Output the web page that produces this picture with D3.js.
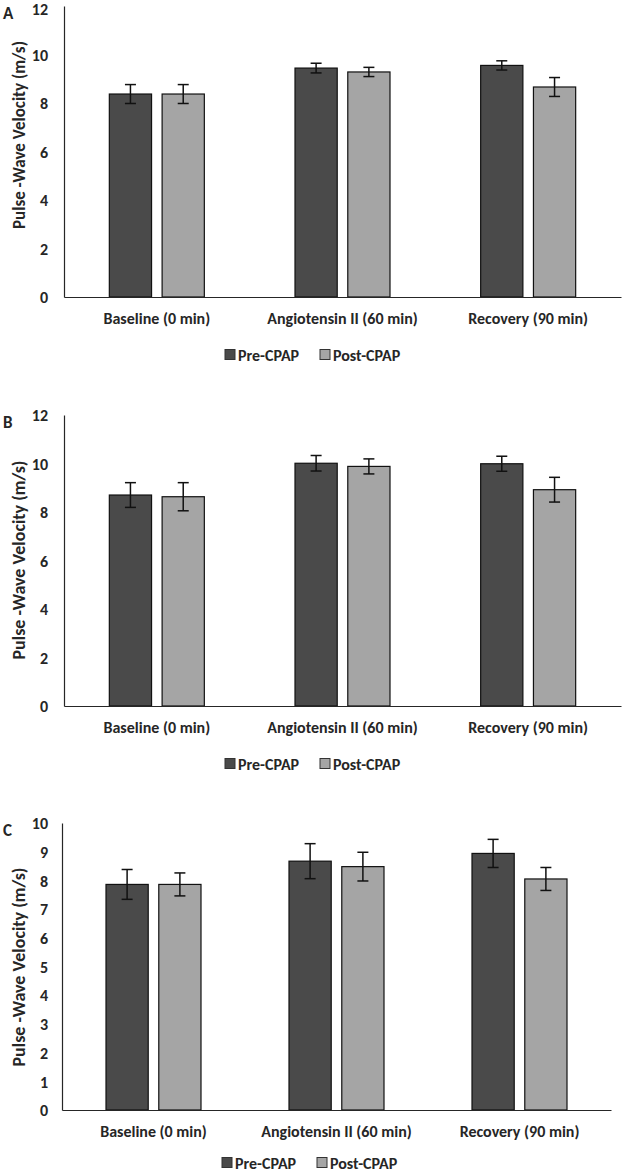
<!DOCTYPE html>
<html><head><meta charset="utf-8">
<script src="https://cdn.jsdelivr.net/npm/d3@7"></script>
<style>
body{margin:0;background:#fff;}
text{font-family:Carlito,"Liberation Sans Narrow",Lato,sans-serif;font-weight:bold;fill:#262626;}
</style></head><body>
<svg id="c" width="622" height="1173"></svg>
<script>
const categories = ["Baseline (0 min)", "Angiotensin II (60 min)", "Recovery (90 min)"];
const series = ["Pre-CPAP", "Post-CPAP"];
const panelLetters = ["A", "B", "C"];
const A_pre = [8.37, 9.44, 9.55], A_preErr = [0.39, 0.20, 0.19];
const A_post = [8.37, 9.28, 8.66], A_postErr = [0.39, 0.19, 0.39];
const B_pre = [8.70, 10.01, 9.99], B_preErr = [0.51, 0.32, 0.31];
const B_post = [8.63, 9.88, 8.92], B_postErr = [0.58, 0.31, 0.51];
const C_pre = [7.86, 8.67, 8.94], C_preErr = [0.52, 0.61, 0.49];
const C_post = [7.86, 8.48, 8.05], C_postErr = [0.40, 0.50, 0.40];
const ticksAB = [0, 2, 4, 6, 8, 10, 12];
const ticksC = [0, 1, 2, 3, 4, 5, 6, 7, 8, 9, 10];
const yTitle = "Pulse -Wave Velocity (m/s)";

const colors = {"Pre-CPAP": "#4a4a4a", "Post-CPAP": "#a5a5a5"};
const svg = d3.select("#c");

const panels = [
  {letter: panelLetters[0], pre: A_pre, preErr: A_preErr, post: A_post, postErr: A_postErr, ticks: ticksAB,
   left: 64, right: 621, y0: 297, yTop: 6, titleY: 135, titleSize: 17, legendX: 225, legendDy: 58},
  {letter: panelLetters[1], pre: B_pre, preErr: B_preErr, post: B_post, postErr: B_postErr, ticks: ticksAB,
   left: 64, right: 621, y0: 706, yTop: 415, titleY: 560, titleSize: 18, legendX: 225, legendDy: 58},
  {letter: panelLetters[2], pre: C_pre, preErr: C_preErr, post: C_post, postErr: C_postErr, ticks: ticksC,
   left: 62, right: 611, y0: 1110, yTop: 823, titleY: 967, titleSize: 18, legendX: 222, legendDy: 53},
];

panels.forEach(p => {
  const g = svg.append("g");
  const y = d3.scaleLinear().domain([0, d3.max(p.ticks)]).range([p.y0, p.yTop]);
  const x = d3.scaleBand().domain(categories).range([p.left, p.right]).padding(0);
  const xs = d3.scaleBand().domain(series).range([-47.5, 47.5]).paddingInner(0.2);

  // y axis
  const ya = d3.axisLeft(y).tickValues(p.ticks).tickSize(0).tickPadding(p.left - 48).tickFormat(d3.format("d"));
  const yg = g.append("g").attr("transform", `translate(${p.left},0)`).call(ya);
  yg.select(".domain").attr("stroke", "#262626").attr("stroke-width", 1.2);
  yg.selectAll("text").style("font-size", "16px").attr("dy", "0.36em");
  // keep the top label inside the picture
  yg.selectAll(".tick").filter(d => y(d) < 10).select("text").attr("dy", "0.5em");

  const data = [];
  categories.forEach((c, i) => {
    data.push({c, s: series[0], v: p.pre[i], e: p.preErr[i]});
    data.push({c, s: series[1], v: p.post[i], e: p.postErr[i]});
  });

  g.selectAll("rect.bar").data(data).join("rect").attr("class", "bar")
    .attr("x", d => x(d.c) + x.bandwidth() / 2 + xs(d.s))
    .attr("width", xs.bandwidth())
    .attr("y", d => y(d.v))
    .attr("height", d => y(0) - y(d.v))
    .attr("fill", d => colors[d.s])
    .attr("stroke", "#111").attr("stroke-width", 1.2);

  // x axis
  const xa = d3.axisBottom(x).tickSize(0);
  const xg = g.append("g").attr("transform", `translate(0,${p.y0})`).call(xa);
  xg.select(".domain").attr("stroke", "#262626").attr("stroke-width", 1.2);
  xg.selectAll("text").style("font-size", "16px").attr("y", 21).attr("dy", "0.35em");

  // error bars
  const eb = g.selectAll("g.err").data(data).join("g").attr("class", "err")
    .attr("transform", d => `translate(${x(d.c) + x.bandwidth() / 2 + xs(d.s) + xs.bandwidth() / 2},0)`);
  eb.append("line").attr("y1", d => y(d.v + d.e)).attr("y2", d => y(d.v - d.e))
    .attr("stroke", "#111").attr("stroke-width", 1.5);
  eb.append("line").attr("x1", -5.5).attr("x2", 5.5).attr("y1", d => y(d.v + d.e)).attr("y2", d => y(d.v + d.e))
    .attr("stroke", "#111").attr("stroke-width", 1.5);
  eb.append("line").attr("x1", -5.5).attr("x2", 5.5).attr("y1", d => y(d.v - d.e)).attr("y2", d => y(d.v - d.e))
    .attr("stroke", "#111").attr("stroke-width", 1.5);

  // y title
  g.append("text").attr("transform", `translate(25,${p.titleY}) rotate(-90)`)
    .attr("text-anchor", "middle").style("font-size", p.titleSize + "px").text(yTitle);

  // letter
  g.append("text").attr("x", 3).attr("y", p.yTop + 13).style("font-size", "17px").text(p.letter);

  // legend
  const lg = g.append("g").attr("transform", `translate(${p.legendX},${p.y0 + p.legendDy})`);
  const items = lg.selectAll("g").data(series).join("g")
    .attr("transform", (d, i) => `translate(${i * 95},0)`);
  items.append("rect").attr("x", 0).attr("y", -5.5).attr("width", 10).attr("height", 10)
    .attr("fill", d => colors[d]).attr("stroke", "#333").attr("stroke-width", 1);
  items.append("text").attr("x", 13).attr("dy", "0.36em").style("font-size", "16px").text(d => d);
});
</script></body></html>
